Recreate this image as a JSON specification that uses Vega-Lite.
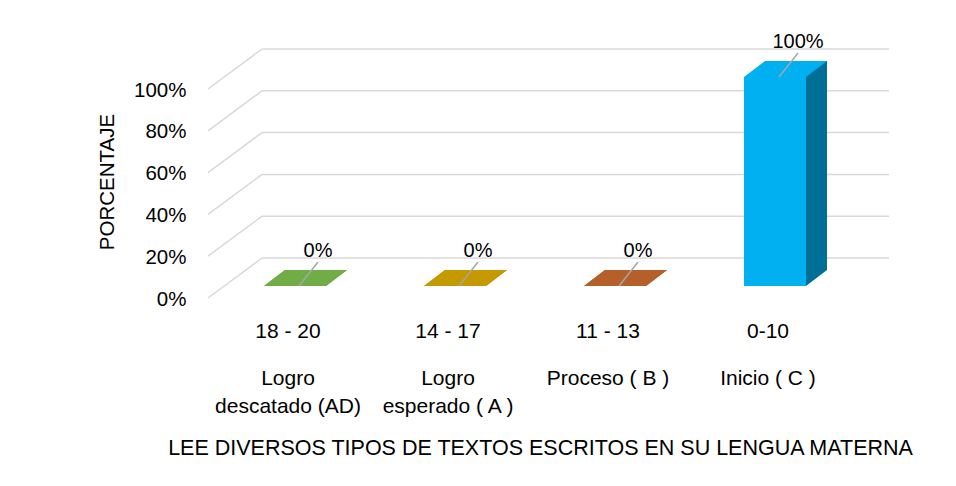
{
  "$schema": "https://vega.github.io/schema/vega-lite/v6.json",
  "width": 640,
  "height": 209,
  "autosize": {"type": "none"},
  "padding": {"left": 208, "top": 77, "right": 108, "bottom": 200},
  "background": "white",
  "config": {
    "view": {"stroke": null},
    "font": "Liberation Sans",
    "axisY": {"domain": false, "ticks": false, "grid": false, "labelPadding": 22, "labelOffset": 13, "labelFontSize": 20.5, "labelColor": "#000000", "titleFontSize": 20.5, "titleFontWeight": "normal", "titleColor": "#000000", "titlePadding": 16},
    "axisX": {"domain": false, "ticks": false, "grid": false, "labelAngle": 0, "labelPadding": 34, "labelFontSize": 21, "labelColor": "#000000", "labelBaseline": "top", "titleFontSize": 21.5, "titleFontWeight": "normal", "titleColor": "#000000", "titlePadding": 96, "titleX": 332}
  },
  "datasets": {
    "bars": [
      {"cat": "18 - 20", "name": "Logro\ndescatado (AD)", "value": 0},
      {"cat": "14 - 17", "name": "Logro\nesperado ( A )", "value": 0},
      {"cat": "11 - 13", "name": "Proceso  ( B )", "value": 0},
      {"cat": "0-10", "name": "Inicio  ( C )", "value": 1}
    ],
    "grid": [{"v": 0}, {"v": 0.2}, {"v": 0.4}, {"v": 0.6}, {"v": 0.8}, {"v": 1}]
  },
  "layer": [
    {
      "data": {"name": "grid"},
      "mark": {"type": "rule", "color": "#d9d9d9", "strokeWidth": 1.5, "xOffset": 54, "x2Offset": 121, "yOffset": -28, "y2Offset": -28},
      "encoding": {
        "x": {"datum": "18 - 20", "type": "nominal", "bandPosition": 0, "scale": {"domain": ["18 - 20", "14 - 17", "11 - 13", "0-10"]}, "title": "LEE DIVERSOS TIPOS DE TEXTOS ESCRITOS EN SU LENGUA MATERNA"},
        "x2": {"datum": "0-10"},
        "y": {"field": "v", "type": "quantitative", "title": "PORCENTAJE"},
        "y2": {"field": "v"}
      }
    },
    {
      "data": {"name": "grid"},
      "mark": {"type": "rule", "color": "#d9d9d9", "strokeWidth": 1.5, "xOffset": 0, "x2Offset": -26, "yOffset": 12, "y2Offset": -28},
      "encoding": {
        "x": {"datum": "18 - 20", "type": "nominal", "bandPosition": 0, "title": "LEE DIVERSOS TIPOS DE TEXTOS ESCRITOS EN SU LENGUA MATERNA"},
        "x2": {"datum": "18 - 20"},
        "y": {"field": "v", "type": "quantitative", "title": "PORCENTAJE"},
        "y2": {"field": "v"}
      }
    },
    {
      "data": {"name": "bars"},
      "mark": {"type": "point", "filled": true, "opacity": 1, "strokeWidth": 0, "shape": "M-1,0.193L0.494,0.193L1,-0.193L-0.494,-0.193Z", "size": 6889, "xOffset": 17.5, "yOffset": -8},
      "encoding": {
        "x": {"field": "cat", "type": "nominal", "sort": null, "title": "LEE DIVERSOS TIPOS DE TEXTOS ESCRITOS EN SU LENGUA MATERNA"},
        "y": {"datum": 0, "type": "quantitative"},
        "color": {"field": "cat", "type": "nominal", "legend": null, "scale": {"domain": ["18 - 20", "14 - 17", "11 - 13", "0-10"], "range": ["#5b8c39", "#a07d00", "#944d22", "#006f98"]}}
      }
    },
    {
      "data": {"name": "bars"},
      "mark": {"type": "bar", "width": 21, "xOffset": 48.5, "yOffset": -16, "y2Offset": -16},
      "encoding": {
        "x": {"field": "cat", "type": "nominal", "sort": null},
        "y": {"field": "value", "type": "quantitative"},
        "y2": {"datum": 0},
        "color": {"field": "cat", "type": "nominal", "legend": null, "scale": {"domain": ["18 - 20", "14 - 17", "11 - 13", "0-10"], "range": ["#5b8c39", "#a07d00", "#944d22", "#006f98"]}}
      }
    },
    {
      "data": {"name": "bars"},
      "mark": {"type": "bar", "width": 62, "xOffset": 7},
      "encoding": {
        "x": {"field": "cat", "type": "nominal", "sort": null, "title": "LEE DIVERSOS TIPOS DE TEXTOS ESCRITOS EN SU LENGUA MATERNA"},
        "y": {"field": "value", "type": "quantitative", "scale": {"domain": [0, 1]}, "title": "PORCENTAJE", "axis": {"values": [0, 0.2, 0.4, 0.6, 0.8, 1], "format": ".0%"}},
        "y2": {"datum": 0},
        "fill": {"field": "cat", "type": "nominal", "legend": null, "scale": {"domain": ["18 - 20", "14 - 17", "11 - 13", "0-10"], "range": ["#70ad47", "#c59a00", "#b5602a", "#00b0f0"]}}
      }
    },
    {
      "data": {"name": "bars"},
      "mark": {"type": "point", "filled": true, "opacity": 1, "strokeWidth": 0, "shape": "M-1,0.193L0.494,0.193L1,-0.193L-0.494,-0.193Z", "size": 6889, "xOffset": 17.5, "yOffset": -8},
      "encoding": {
        "x": {"field": "cat", "type": "nominal", "sort": null},
        "y": {"field": "value", "type": "quantitative"},
        "fill": {"field": "cat", "type": "nominal", "legend": null, "scale": {"domain": ["18 - 20", "14 - 17", "11 - 13", "0-10"], "range": ["#70ad47", "#c59a00", "#b5602a", "#0088ba"]}}
      }
    },
    {
      "data": {"name": "bars"},
      "mark": {"type": "rule", "color": "#a6a6a6", "strokeWidth": 1.5, "xOffset": 11, "x2Offset": 30, "y2Offset": -24},
      "encoding": {
        "x": {"field": "cat", "type": "nominal", "sort": null},
        "x2": {"field": "cat"},
        "y": {"field": "value", "type": "quantitative"},
        "y2": {"field": "value"}
      }
    },
    {
      "data": {"name": "bars"},
      "mark": {"type": "text", "fontSize": 20, "color": "#000000", "xOffset": 30, "yOffset": -35, "baseline": "middle"},
      "encoding": {
        "x": {"field": "cat", "type": "nominal", "sort": null},
        "y": {"field": "value", "type": "quantitative"},
        "text": {"field": "value", "type": "quantitative", "format": ".0%"}
      }
    },
    {
      "data": {"name": "bars"},
      "mark": {"type": "text", "fontSize": 21, "color": "#000000", "yOffset": 82, "baseline": "top", "lineBreak": "\n", "lineHeight": 28},
      "encoding": {
        "x": {"field": "cat", "type": "nominal", "sort": null},
        "y": {"datum": 0, "type": "quantitative"},
        "text": {"field": "name", "type": "nominal"}
      }
    }
  ]
}
